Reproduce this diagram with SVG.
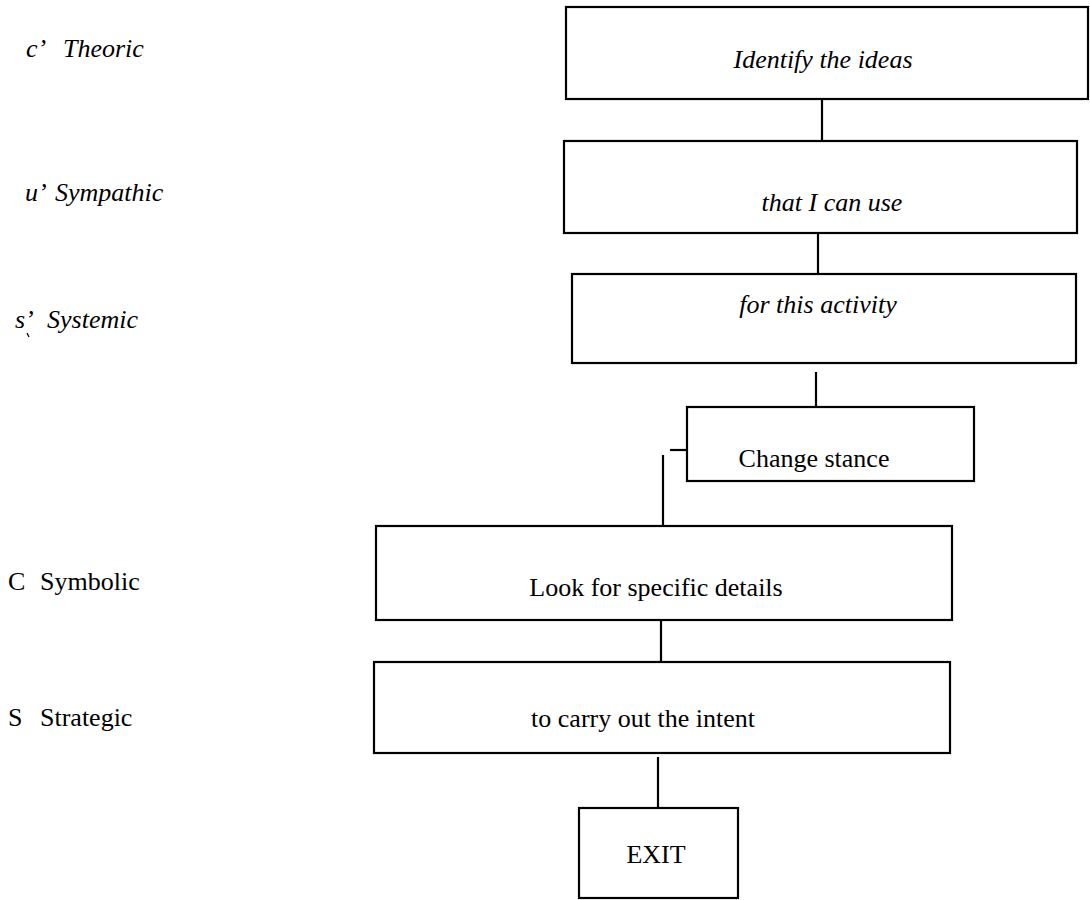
<svg xmlns="http://www.w3.org/2000/svg" width="1090" height="900" viewBox="0 0 1090 900">
  <style>
    .box { fill: #ffffff; stroke: #000000; stroke-width: 2.2; }
    .link { fill: none; stroke: #000000; stroke-width: 2.2; }
    text { font-family: 'Liberation Serif', 'DejaVu Serif', 'Times New Roman', serif; font-size: 26px; fill: #000000; }
    .it { font-style: italic; }
    .mid { text-anchor: middle; }
  </style>
  <rect width="1090" height="900" fill="#ffffff"/>

  <!-- level labels on the left -->
  <g id="labels" font-family="Liberation Serif, serif">
    <text class="it" x="26" y="57">c’<tspan x="63">Theoric</tspan></text>
    <text class="it" x="25" y="201">u’<tspan x="55">Sympathic</tspan></text>
    <text class="it" x="15" y="328">s’<tspan x="47">Systemic</tspan></text>
    <path d="M27 333 L29 337" stroke="#000" stroke-width="1.2" fill="none"/>
    <text x="8" y="590">C<tspan x="40">Symbolic</tspan></text>
    <text x="8" y="726">S<tspan x="40">Strategic</tspan></text>
  </g>

  <!-- connectors between steps -->
  <g id="connectors">
    <line class="link" x1="822" y1="99" x2="822" y2="141"/>
    <line class="link" x1="818" y1="233" x2="818" y2="274"/>
    <line class="link" x1="816" y1="372" x2="816" y2="407"/>
    <line class="link" x1="670" y1="450" x2="687" y2="450"/>
    <line class="link" x1="663" y1="455" x2="663" y2="526"/>
    <line class="link" x1="661" y1="620" x2="661" y2="662"/>
    <line class="link" x1="658" y1="757" x2="658" y2="808"/>
  </g>

  <g id="identify">
    <rect class="box" x="566" y="7" width="522" height="92"/>
    <text class="it mid" x="823" y="68">Identify the ideas</text>
  </g>
  <g id="use">
    <rect class="box" x="564" y="141" width="513" height="92"/>
    <text class="it mid" x="832" y="211">that I can use</text>
  </g>
  <g id="activity">
    <rect class="box" x="572" y="274" width="504" height="89"/>
    <text class="it mid" x="818" y="313">for this activity</text>
  </g>
  <g id="stance">
    <rect class="box" x="687" y="407" width="287" height="74"/>
    <text class="mid" x="814" y="467">Change stance</text>
  </g>
  <g id="details">
    <rect class="box" x="376" y="526" width="576" height="94"/>
    <text class="mid" x="656" y="596">Look for specific details</text>
  </g>
  <g id="intent">
    <rect class="box" x="374" y="662" width="576" height="91"/>
    <text class="mid" x="643" y="727">to carry out the intent</text>
  </g>
  <g id="exit">
    <rect class="box" x="579" y="808" width="159" height="90"/>
    <text class="mid" x="656" y="863">EXIT</text>
  </g>
</svg>
